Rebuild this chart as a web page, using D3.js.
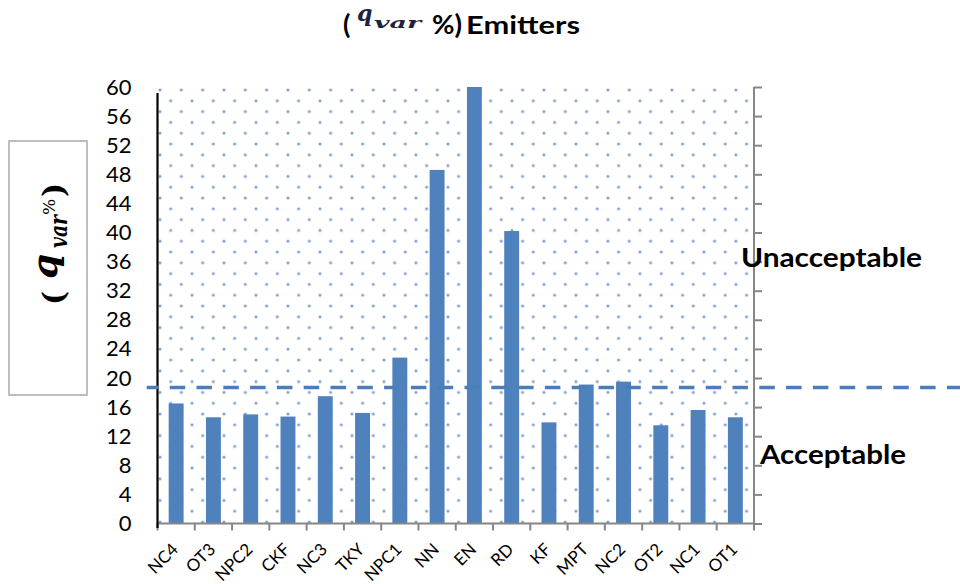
<!DOCTYPE html>
<html>
<head>
<meta charset="utf-8">
<script src="https://cdn.jsdelivr.net/npm/d3@7"></script>
<style>
  html, body { margin: 0; padding: 0; background: #fff; }
  svg { display: block; }
</style>
</head>
<body>
<svg id="chart" width="960" height="584"></svg>
<script>
// ---- data ----
const categories = ["NC4","OT3","NPC2","CKF","NC3","TKY","NPC1","NN","EN","RD","KF","MPT","NC2","OT2","NC1","OT1"];
const qvarValues = [16.5, 14.6, 15.0, 14.7, 17.5, 15.2, 22.8, 48.6, 60.0, 40.2, 13.9, 19.1, 19.5, 13.5, 15.6, 14.6];
const yTicks = [0,4,8,12,16,20,24,28,32,36,40,44,48,52,56,60];
const thresholdValue = [18.7];
const zoneLabels = ["Unacceptable", "Acceptable"];

(function () {
// ---- layout ----
const svg = d3.select("#chart");
const pL = 157.5, pR = 754, pT = 87, pB = 523.5;

const x = d3.scaleBand().domain(categories).range([pL, pR]).paddingInner(0.6).paddingOuter(0.3);
const y = d3.scaleLinear().domain([0, 60]).range([pB, pT]);

// dotted pattern background
const defs = svg.append("defs");
const pat = defs.append("pattern")
  .attr("id", "dots").attr("patternUnits", "userSpaceOnUse")
  .attr("x", 160).attr("y", 90).attr("width", 21.33).attr("height", 21.6);
[[0,0],[21.33,0],[0,21.6],[21.33,21.6],[10.67,10.8]].forEach(p =>
  pat.append("circle").attr("cx", p[0]).attr("cy", p[1]).attr("r", 1.5).attr("fill", "#78a0d8"));

svg.append("rect")
  .attr("x", pL).attr("y", pT)
  .attr("width", pR - pL).attr("height", pB - pT)
  .attr("fill", "url(#dots)");

// bars
svg.append("g").selectAll("rect").data(categories).join("rect")
  .attr("x", d => x(d))
  .attr("width", x.bandwidth())
  .attr("y", (d, i) => y(qvarValues[i]))
  .attr("height", (d, i) => y(0) - y(qvarValues[i]))
  .attr("fill", "#4f81bd");

// right axis (gray, ticks outward)
const rightAxis = svg.append("g")
  .attr("transform", `translate(${pR},0)`)
  .call(d3.axisRight(y).tickValues(yTicks).tickSize(8).tickFormat(""));
rightAxis.selectAll("path, line").attr("stroke", "#868686").attr("stroke-width", 2);
rightAxis.select(".domain").attr("d", `M0,${pT}V${pB}`);

// bottom axis: ticks at category boundaries
const boundaries = d3.range(categories.length + 1).map(i => pL + i * (pR - pL) / categories.length);
const bottomG = svg.append("g");
bottomG.append("line").attr("x1", pL).attr("x2", pR + 1).attr("y1", pB).attr("y2", pB)
  .attr("stroke", "#868686").attr("stroke-width", 2);
bottomG.selectAll("line.tk").data(boundaries).join("line").attr("class", "tk")
  .attr("x1", d => d).attr("x2", d => d).attr("y1", pB).attr("y2", pB + 7)
  .attr("stroke", "#868686").attr("stroke-width", 2);

// x labels
svg.append("g").selectAll("text").data(categories).join("text")
  .attr("transform", d => `translate(${x(d) + x.bandwidth() / 2 + 3},${pB + 27}) rotate(-45)`)
  .attr("text-anchor", "end")
  .attr("font-family", "Lato, 'Open Sans', sans-serif")
  .attr("font-size", 17)
  .attr("fill", "#000")
  .text(d => d);

// left axis (black line, labels)
svg.append("line").attr("x1", pL).attr("x2", pL).attr("y1", 93).attr("y2", 528)
  .attr("stroke", "#000").attr("stroke-width", 2.2);
const leftAxis = svg.append("g")
  .attr("transform", `translate(${pL},0)`)
  .call(d3.axisLeft(y).tickValues(yTicks).tickSize(0).tickPadding(26));
leftAxis.select(".domain").remove();
leftAxis.selectAll("text")
  .attr("font-family", "Lato, 'Open Sans', sans-serif")
  .attr("font-size", 22)
  .attr("fill", "#000");

// threshold dashed line
svg.append("g").selectAll("line").data(thresholdValue).join("line")
  .attr("x1", 146.7).attr("x2", 960)
  .attr("y1", d => y(d)).attr("y2", d => y(d))
  .attr("stroke", "#4a7ebb").attr("stroke-width", 3.5)
  .attr("stroke-dasharray", "15.5,11.3").attr("stroke-dashoffset", 3.8);

// zone labels
svg.append("text").attr("x", 741).attr("y", 266.5)
  .attr("font-family", "Lato, 'Open Sans', sans-serif").attr("font-weight", "bold")
  .attr("font-size", 27.5).attr("textLength", 181).attr("lengthAdjust", "spacingAndGlyphs")
  .text(zoneLabels[0]);
svg.append("text").attr("x", 760).attr("y", 463.5)
  .attr("font-family", "Lato, 'Open Sans', sans-serif").attr("font-weight", "bold")
  .attr("font-size", 27.5).attr("textLength", 146).attr("lengthAdjust", "spacingAndGlyphs")
  .text(zoneLabels[1]);

// title
const tFont = "Lato, 'Open Sans', sans-serif";
const mFont = "'DejaVu Serif', 'Liberation Serif', serif";
svg.append("text").attr("x", 343).attr("y", 34).attr("font-family", tFont).attr("font-weight", "bold")
  .attr("font-size", 27).text("(");
svg.append("text").attr("x", 357).attr("y", 21).attr("font-family", mFont).attr("font-weight", "bold")
  .attr("font-style", "italic").attr("font-size", 22).attr("fill", "#1e2140").text("q");
svg.append("text").attr("x", 374).attr("y", 28).attr("font-family", mFont).attr("font-weight", "bold")
  .attr("font-style", "italic").attr("font-size", 15).attr("fill", "#1e2140")
  .attr("textLength", 47).attr("lengthAdjust", "spacingAndGlyphs").text("var");
svg.append("text").attr("x", 432).attr("y", 34).attr("font-family", tFont).attr("font-weight", "bold")
  .attr("font-size", 26).attr("textLength", 30).attr("lengthAdjust", "spacingAndGlyphs").text("%)");
svg.append("text").attr("x", 466).attr("y", 34).attr("font-family", tFont).attr("font-weight", "bold")
  .attr("font-size", 25).attr("textLength", 114).attr("lengthAdjust", "spacingAndGlyphs").text("Emitters");

// y-axis label box
svg.append("rect").attr("x", 9).attr("y", 141).attr("width", 78).attr("height", 254)
  .attr("fill", "none").attr("stroke", "#bfbfbf").attr("stroke-width", 2);
const yl = svg.append("g");
yl.append("text").attr("transform", "translate(64,305) rotate(-90)")
  .attr("font-family", mFont).attr("font-weight", "bold").attr("font-size", 30).text("(");
yl.append("text").attr("transform", "translate(57,279) rotate(-90)")
  .attr("font-family", mFont).attr("font-weight", "bold").attr("font-style", "italic")
  .attr("font-size", 36).text("q");
yl.append("text").attr("transform", "translate(67,248) rotate(-90)")
  .attr("font-family", mFont).attr("font-weight", "bold").attr("font-style", "italic")
  .attr("font-size", 25).attr("textLength", 33).attr("lengthAdjust", "spacingAndGlyphs").text("var");
yl.append("text").attr("transform", "translate(55,215) rotate(-90)")
  .attr("font-family", mFont).attr("font-size", 17).text("%");
yl.append("text").attr("transform", "translate(64,197) rotate(-90)")
  .attr("font-family", mFont).attr("font-weight", "bold").attr("font-size", 30).text(")");
})();
</script>
</body>
</html>
